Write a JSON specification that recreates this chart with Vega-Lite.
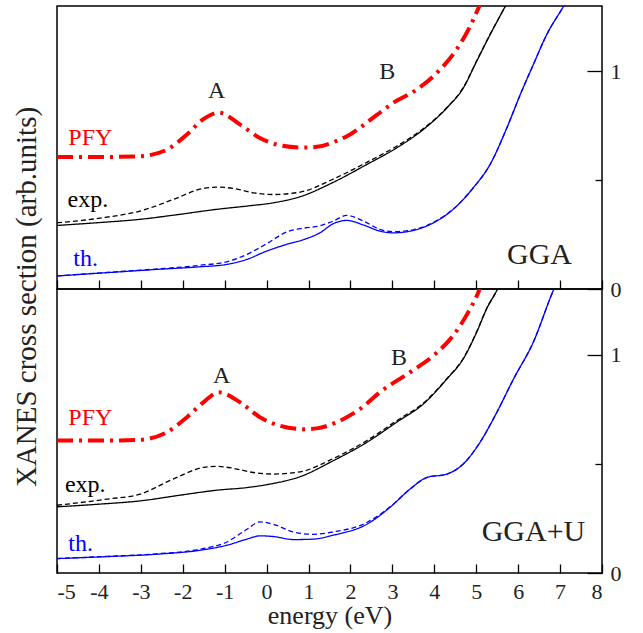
{
  "$schema": "https://vega.github.io/schema/vega-lite/v6.json",
  "background": "white",
  "padding": {"left": 12, "top": 5, "right": 5, "bottom": 2},
  "spacing": 0,
  "bounds": "flush",
  "title": {
    "text": "XANES cross section (arb.units)",
    "orient": "left",
    "anchor": "middle",
    "dx": 20,
    "font": "Liberation Serif",
    "fontSize": 29,
    "fontWeight": "normal",
    "color": "#222222",
    "offset": 14
  },
  "datasets": {
    "lines": [
      {"p":"t","s":"PFY","x":-5,"y":0.606},{"p":"t","s":"PFY","x":-4,"y":0.606},{"p":"t","s":"PFY","x":-3.02,"y":0.61},{"p":"t","s":"PFY","x":-2.38,"y":0.64},{"p":"t","s":"PFY","x":-1.9,"y":0.71},{"p":"t","s":"PFY","x":-1.51,"y":0.78},{"p":"t","s":"PFY","x":-1.14,"y":0.81},{"p":"t","s":"PFY","x":-0.63,"y":0.755},{"p":"t","s":"PFY","x":-0.16,"y":0.694},{"p":"t","s":"PFY","x":0.32,"y":0.66},{"p":"t","s":"PFY","x":0.85,"y":0.65},{"p":"t","s":"PFY","x":1.2,"y":0.653},{"p":"t","s":"PFY","x":1.6,"y":0.675},{"p":"t","s":"PFY","x":1.99,"y":0.71},{"p":"t","s":"PFY","x":2.63,"y":0.8},{"p":"t","s":"PFY","x":3.02,"y":0.855},{"p":"t","s":"PFY","x":3.58,"y":0.916},{"p":"t","s":"PFY","x":4.14,"y":1.008},{"p":"t","s":"PFY","x":4.53,"y":1.1},{"p":"t","s":"PFY","x":4.81,"y":1.19},{"p":"t","s":"PFY","x":5.07,"y":1.298},{"p":"t","s":"PFY","x":5.12,"y":1.32},
      {"p":"t","s":"exp","x":-5,"y":0.292},{"p":"t","s":"exp","x":-4,"y":0.305},{"p":"t","s":"exp","x":-3.02,"y":0.32},{"p":"t","s":"exp","x":-2.07,"y":0.343},{"p":"t","s":"exp","x":-1.19,"y":0.366},{"p":"t","s":"exp","x":-0.47,"y":0.381},{"p":"t","s":"exp","x":0.16,"y":0.396},{"p":"t","s":"exp","x":0.8,"y":0.424},{"p":"t","s":"exp","x":1.59,"y":0.49},{"p":"t","s":"exp","x":2.39,"y":0.572},{"p":"t","s":"exp","x":3.1,"y":0.648},{"p":"t","s":"exp","x":3.74,"y":0.733},{"p":"t","s":"exp","x":4.3,"y":0.832},{"p":"t","s":"exp","x":4.69,"y":0.923},{"p":"t","s":"exp","x":5.01,"y":1.046},{"p":"t","s":"exp","x":5.33,"y":1.168},{"p":"t","s":"exp","x":5.69,"y":1.298},{"p":"t","s":"exp","x":5.75,"y":1.32},
      {"p":"t","s":"expd","x":-5,"y":0.304},{"p":"t","s":"expd","x":-4.4,"y":0.315},{"p":"t","s":"expd","x":-3.81,"y":0.33},{"p":"t","s":"expd","x":-3.02,"y":0.358},{"p":"t","s":"expd","x":-2.23,"y":0.411},{"p":"t","s":"expd","x":-1.51,"y":0.462},{"p":"t","s":"expd","x":-1.19,"y":0.468},{"p":"t","s":"expd","x":-0.79,"y":0.462},{"p":"t","s":"expd","x":-0.32,"y":0.442},{"p":"t","s":"expd","x":0.16,"y":0.434},{"p":"t","s":"expd","x":0.8,"y":0.445},{"p":"t","s":"expd","x":1.59,"y":0.505},{"p":"t","s":"expd","x":2.39,"y":0.582},{"p":"t","s":"expd","x":3.1,"y":0.656},{"p":"t","s":"expd","x":3.74,"y":0.737},{"p":"t","s":"expd","x":4.3,"y":0.834},{"p":"t","s":"expd","x":4.69,"y":0.925},{"p":"t","s":"expd","x":5.01,"y":1.048},{"p":"t","s":"expd","x":5.33,"y":1.17},{"p":"t","s":"expd","x":5.69,"y":1.298},{"p":"t","s":"expd","x":5.75,"y":1.32},
      {"p":"t","s":"th","x":-5,"y":0.06},{"p":"t","s":"th","x":-3.81,"y":0.075},{"p":"t","s":"th","x":-2.62,"y":0.09},{"p":"t","s":"th","x":-1.59,"y":0.102},{"p":"t","s":"th","x":-0.95,"y":0.113},{"p":"t","s":"th","x":-0.47,"y":0.136},{"p":"t","s":"th","x":0,"y":0.174},{"p":"t","s":"th","x":0.48,"y":0.205},{"p":"t","s":"th","x":0.9,"y":0.228},{"p":"t","s":"th","x":1.27,"y":0.258},{"p":"t","s":"th","x":1.59,"y":0.3},{"p":"t","s":"th","x":1.91,"y":0.315},{"p":"t","s":"th","x":2.31,"y":0.294},{"p":"t","s":"th","x":2.7,"y":0.266},{"p":"t","s":"th","x":3.02,"y":0.258},{"p":"t","s":"th","x":3.5,"y":0.269},{"p":"t","s":"th","x":3.98,"y":0.304},{"p":"t","s":"th","x":4.45,"y":0.366},{"p":"t","s":"th","x":4.93,"y":0.465},{"p":"t","s":"th","x":5.33,"y":0.572},{"p":"t","s":"th","x":5.73,"y":0.74},{"p":"t","s":"th","x":6.05,"y":0.893},{"p":"t","s":"th","x":6.36,"y":1.03},{"p":"t","s":"th","x":6.68,"y":1.168},{"p":"t","s":"th","x":7.08,"y":1.298},{"p":"t","s":"th","x":7.16,"y":1.325},
      {"p":"t","s":"thd","x":-5,"y":0.06},{"p":"t","s":"thd","x":-3.81,"y":0.076},{"p":"t","s":"thd","x":-2.62,"y":0.092},{"p":"t","s":"thd","x":-1.59,"y":0.109},{"p":"t","s":"thd","x":-0.95,"y":0.125},{"p":"t","s":"thd","x":-0.47,"y":0.159},{"p":"t","s":"thd","x":0,"y":0.208},{"p":"t","s":"thd","x":0.48,"y":0.262},{"p":"t","s":"thd","x":0.9,"y":0.28},{"p":"t","s":"thd","x":1.27,"y":0.29},{"p":"t","s":"thd","x":1.59,"y":0.312},{"p":"t","s":"thd","x":1.91,"y":0.338},{"p":"t","s":"thd","x":2.31,"y":0.312},{"p":"t","s":"thd","x":2.7,"y":0.274},{"p":"t","s":"thd","x":3.02,"y":0.263},{"p":"t","s":"thd","x":3.5,"y":0.272},{"p":"t","s":"thd","x":3.98,"y":0.306},{"p":"t","s":"thd","x":4.45,"y":0.367},{"p":"t","s":"thd","x":4.93,"y":0.465},{"p":"t","s":"thd","x":5.33,"y":0.572},{"p":"t","s":"thd","x":5.73,"y":0.74},{"p":"t","s":"thd","x":6.05,"y":0.893},{"p":"t","s":"thd","x":6.36,"y":1.03},{"p":"t","s":"thd","x":6.68,"y":1.168},{"p":"t","s":"thd","x":7.08,"y":1.298},{"p":"t","s":"thd","x":7.16,"y":1.325},
      {"p":"b","s":"PFY","x":-5,"y":0.606},{"p":"b","s":"PFY","x":-4,"y":0.606},{"p":"b","s":"PFY","x":-3.02,"y":0.61},{"p":"b","s":"PFY","x":-2.38,"y":0.644},{"p":"b","s":"PFY","x":-1.9,"y":0.713},{"p":"b","s":"PFY","x":-1.51,"y":0.781},{"p":"b","s":"PFY","x":-1.14,"y":0.827},{"p":"b","s":"PFY","x":-0.63,"y":0.781},{"p":"b","s":"PFY","x":-0.16,"y":0.713},{"p":"b","s":"PFY","x":0.32,"y":0.674},{"p":"b","s":"PFY","x":0.9,"y":0.658},{"p":"b","s":"PFY","x":1.195,"y":0.662},{"p":"b","s":"PFY","x":1.67,"y":0.69},{"p":"b","s":"PFY","x":2.23,"y":0.751},{"p":"b","s":"PFY","x":2.7,"y":0.827},{"p":"b","s":"PFY","x":3.42,"y":0.919},{"p":"b","s":"PFY","x":3.98,"y":0.995},{"p":"b","s":"PFY","x":4.45,"y":1.087},{"p":"b","s":"PFY","x":4.81,"y":1.194},{"p":"b","s":"PFY","x":5.07,"y":1.294},{"p":"b","s":"PFY","x":5.12,"y":1.32},
      {"p":"b","s":"exp","x":-5,"y":0.303},{"p":"b","s":"exp","x":-4,"y":0.315},{"p":"b","s":"exp","x":-3.02,"y":0.33},{"p":"b","s":"exp","x":-2.07,"y":0.356},{"p":"b","s":"exp","x":-1.19,"y":0.379},{"p":"b","s":"exp","x":-0.47,"y":0.391},{"p":"b","s":"exp","x":0.08,"y":0.407},{"p":"b","s":"exp","x":0.8,"y":0.441},{"p":"b","s":"exp","x":1.59,"y":0.514},{"p":"b","s":"exp","x":2.39,"y":0.598},{"p":"b","s":"exp","x":3.1,"y":0.69},{"p":"b","s":"exp","x":3.74,"y":0.774},{"p":"b","s":"exp","x":4.3,"y":0.888},{"p":"b","s":"exp","x":4.69,"y":0.98},{"p":"b","s":"exp","x":5.01,"y":1.102},{"p":"b","s":"exp","x":5.25,"y":1.21},{"p":"b","s":"exp","x":5.5,"y":1.298},{"p":"b","s":"exp","x":5.55,"y":1.32},
      {"p":"b","s":"expd","x":-5,"y":0.31},{"p":"b","s":"expd","x":-3.81,"y":0.338},{"p":"b","s":"expd","x":-3.02,"y":0.361},{"p":"b","s":"expd","x":-2.23,"y":0.43},{"p":"b","s":"expd","x":-1.51,"y":0.483},{"p":"b","s":"expd","x":-1.19,"y":0.488},{"p":"b","s":"expd","x":-0.79,"y":0.479},{"p":"b","s":"expd","x":-0.32,"y":0.46},{"p":"b","s":"expd","x":0.16,"y":0.453},{"p":"b","s":"expd","x":0.8,"y":0.463},{"p":"b","s":"expd","x":1.59,"y":0.524},{"p":"b","s":"expd","x":2.39,"y":0.606},{"p":"b","s":"expd","x":3.1,"y":0.697},{"p":"b","s":"expd","x":3.74,"y":0.778},{"p":"b","s":"expd","x":4.3,"y":0.89},{"p":"b","s":"expd","x":4.69,"y":0.982},{"p":"b","s":"expd","x":5.01,"y":1.104},{"p":"b","s":"expd","x":5.25,"y":1.212},{"p":"b","s":"expd","x":5.5,"y":1.298},{"p":"b","s":"expd","x":5.55,"y":1.32},
      {"p":"b","s":"th","x":-5,"y":0.066},{"p":"b","s":"th","x":-3.81,"y":0.075},{"p":"b","s":"th","x":-2.62,"y":0.086},{"p":"b","s":"th","x":-1.59,"y":0.104},{"p":"b","s":"th","x":-0.95,"y":0.127},{"p":"b","s":"th","x":-0.47,"y":0.155},{"p":"b","s":"th","x":-0.16,"y":0.17},{"p":"b","s":"th","x":0.16,"y":0.167},{"p":"b","s":"th","x":0.64,"y":0.153},{"p":"b","s":"th","x":1.11,"y":0.155},{"p":"b","s":"th","x":1.59,"y":0.173},{"p":"b","s":"th","x":2.39,"y":0.223},{"p":"b","s":"th","x":2.94,"y":0.3},{"p":"b","s":"th","x":3.42,"y":0.384},{"p":"b","s":"th","x":3.82,"y":0.437},{"p":"b","s":"th","x":4.3,"y":0.453},{"p":"b","s":"th","x":4.69,"y":0.499},{"p":"b","s":"th","x":5.09,"y":0.598},{"p":"b","s":"th","x":5.49,"y":0.735},{"p":"b","s":"th","x":5.89,"y":0.888},{"p":"b","s":"th","x":6.36,"y":1.056},{"p":"b","s":"th","x":6.84,"y":1.294},{"p":"b","s":"th","x":6.9,"y":1.32},
      {"p":"b","s":"thd","x":-5,"y":0.066},{"p":"b","s":"thd","x":-3.81,"y":0.076},{"p":"b","s":"thd","x":-2.62,"y":0.088},{"p":"b","s":"thd","x":-1.59,"y":0.109},{"p":"b","s":"thd","x":-0.95,"y":0.142},{"p":"b","s":"thd","x":-0.47,"y":0.2},{"p":"b","s":"thd","x":-0.16,"y":0.234},{"p":"b","s":"thd","x":0.16,"y":0.223},{"p":"b","s":"thd","x":0.64,"y":0.188},{"p":"b","s":"thd","x":1.11,"y":0.177},{"p":"b","s":"thd","x":1.59,"y":0.188},{"p":"b","s":"thd","x":2.39,"y":0.231},{"p":"b","s":"thd","x":2.94,"y":0.302},{"p":"b","s":"thd","x":3.42,"y":0.384},{"p":"b","s":"thd","x":3.82,"y":0.437},{"p":"b","s":"thd","x":4.3,"y":0.453},{"p":"b","s":"thd","x":4.69,"y":0.499},{"p":"b","s":"thd","x":5.09,"y":0.598},{"p":"b","s":"thd","x":5.49,"y":0.735},{"p":"b","s":"thd","x":5.89,"y":0.888},{"p":"b","s":"thd","x":6.36,"y":1.056},{"p":"b","s":"thd","x":6.84,"y":1.294},{"p":"b","s":"thd","x":6.9,"y":1.32}
    ],
    "labels": [
      {"p":"t","k":"peak","s":"exp","t":"A","x":-1.19,"y":0.908},
      {"p":"t","k":"peak","s":"exp","t":"B","x":2.88,"y":0.997},
      {"p":"t","k":"series","s":"PFY","t":"PFY","x":-4.73,"y":0.694},
      {"p":"t","k":"series","s":"exp","t":"exp.","x":-4.75,"y":0.408},
      {"p":"t","k":"series","s":"th","t":"th.","x":-4.61,"y":0.136},
      {"p":"t","k":"model","s":"exp","t":"GGA","x":5.735,"y":0.115},
      {"p":"b","k":"peak","s":"exp","t":"A","x":-1.07,"y":0.904},
      {"p":"b","k":"peak","s":"exp","t":"B","x":3.16,"y":0.983},
      {"p":"b","k":"series","s":"PFY","t":"PFY","x":-4.73,"y":0.71},
      {"p":"b","k":"series","s":"exp","t":"exp.","x":-4.81,"y":0.404},
      {"p":"b","k":"series","s":"th","t":"th.","x":-4.73,"y":0.132},
      {"p":"b","k":"model","s":"exp","t":"GGA+U","x":5.13,"y":0.145}
    ]
  },
  "vconcat": [
    {
      "width": 545,
      "height": 283,
      "encoding": {
        "x": {"field": "x", "type": "quantitative",
          "scale": {"domain": [-5, 8], "nice": false, "zero": false},
          "axis": {"orient": "bottom", "values": [-5,-4,-3,-2,-1,0,1,2,3,4,5,6,7,8], "labels": false, "title": null, "domain": false, "grid": false, "tickSize": -9, "tickColor": "#000000", "tickWidth": 1.3}},
        "y": {"field": "y", "type": "quantitative",
          "scale": {"domain": [0, 1.3], "nice": false, "zero": false},
          "axis": {"orient": "right", "values": [0, 0.5, 1], "labelExpr": "datum.value == 0.5 ? '' : '' + datum.value", "title": null, "domain": false, "grid": false,
            "tickSize": {"condition": {"test": "datum.value == 0.5", "value": -7}, "value": -15}, "tickColor": "#000000", "tickWidth": 1.3, "labelPadding": 23, "labelFont": "Liberation Serif", "labelFontSize": 22, "labelColor": "#222222"}}
      },
      "layer": [
        {"data": {"name": "lines"}, "transform": [{"filter": "datum.p == 't' && datum.s != 'PFY'"}],
          "mark": {"type": "line", "interpolate": "monotone", "clip": true, "strokeWidth": 1.3},
          "encoding": {
            "color": {"field": "s", "type": "nominal", "legend": null, "scale": {"domain": ["PFY","exp","expd","th","thd"], "range": ["#ff0000","#000000","#000000","#0000ff","#0000ff"]}},
            "strokeDash": {"field": "s", "type": "nominal", "legend": null, "scale": {"domain": ["PFY","exp","expd","th","thd"], "range": [[16,6,3,6],[1,0],[5,3],[1,0],[5,3]]}},
            "detail": {"field": "s"}
          }},
        {"data": {"name": "lines"}, "transform": [{"filter": "datum.p == 't' && datum.s == 'PFY'"}],
          "mark": {"type": "line", "interpolate": "monotone", "clip": true, "strokeWidth": 4, "color": "#ff0000", "strokeDash": [16,6,3,6]}},
        {"data": {"name": "labels"}, "transform": [{"filter": "datum.p == 't' && datum.k == 'series'"}],
          "mark": {"type": "text", "align": "left", "baseline": "middle", "fontSize": 24, "font": "Liberation Serif"},
          "encoding": {"text": {"field": "t"}, "color": {"field": "s", "type": "nominal", "legend": null}}},
        {"data": {"name": "labels"}, "transform": [{"filter": "datum.p == 't' && datum.k == 'peak'"}],
          "mark": {"type": "text", "align": "center", "baseline": "middle", "fontSize": 24, "font": "Liberation Serif", "color": "#222222"},
          "encoding": {"text": {"field": "t"}}},
        {"data": {"name": "labels"}, "transform": [{"filter": "datum.p == 't' && datum.k == 'model'"}],
          "mark": {"type": "text", "align": "left", "baseline": "alphabetic", "fontSize": 30, "font": "Liberation Serif", "color": "#222222"},
          "encoding": {"text": {"field": "t"}}}
      ]
    },
    {
      "width": 545,
      "height": 284,
      "encoding": {
        "x": {"field": "x", "type": "quantitative",
          "scale": {"domain": [-5, 8], "nice": false, "zero": false},
          "axis": {"orient": "bottom", "values": [-5,-4,-3,-2,-1,0,1,2,3,4,5,6,7,8], "labelExpr": "'' + datum.value", "title": "energy (eV)", "titleFont": "Liberation Serif", "titleFontSize": 26, "titleFontWeight": "normal", "titleColor": "#222222", "titlePadding": 0, "domain": false, "grid": false, "tickSize": -9, "tickColor": "#000000", "tickWidth": 1.3, "labelPadding": 17, "labelFont": "Liberation Serif", "labelFontSize": 22, "labelColor": "#222222"}},
        "y": {"field": "y", "type": "quantitative",
          "scale": {"domain": [0, 1.3], "nice": false, "zero": false},
          "axis": {"orient": "right", "values": [0, 0.5, 1], "labelExpr": "datum.value == 0.5 ? '' : '' + datum.value", "title": null, "domain": false, "grid": false,
            "tickSize": {"condition": {"test": "datum.value == 0.5", "value": -7}, "value": -15}, "tickColor": "#000000", "tickWidth": 1.3, "labelPadding": 23, "labelFont": "Liberation Serif", "labelFontSize": 22, "labelColor": "#222222"}}
      },
      "layer": [
        {"data": {"name": "lines"}, "transform": [{"filter": "datum.p == 'b' && datum.s != 'PFY'"}],
          "mark": {"type": "line", "interpolate": "monotone", "clip": true, "strokeWidth": 1.3},
          "encoding": {
            "color": {"field": "s", "type": "nominal", "legend": null, "scale": {"domain": ["PFY","exp","expd","th","thd"], "range": ["#ff0000","#000000","#000000","#0000ff","#0000ff"]}},
            "strokeDash": {"field": "s", "type": "nominal", "legend": null, "scale": {"domain": ["PFY","exp","expd","th","thd"], "range": [[16,6,3,6],[1,0],[5,3],[1,0],[5,3]]}},
            "detail": {"field": "s"}
          }},
        {"data": {"name": "lines"}, "transform": [{"filter": "datum.p == 'b' && datum.s == 'PFY'"}],
          "mark": {"type": "line", "interpolate": "monotone", "clip": true, "strokeWidth": 4, "color": "#ff0000", "strokeDash": [16,6,3,6]}},
        {"data": {"name": "labels"}, "transform": [{"filter": "datum.p == 'b' && datum.k == 'series'"}],
          "mark": {"type": "text", "align": "left", "baseline": "middle", "fontSize": 24, "font": "Liberation Serif"},
          "encoding": {"text": {"field": "t"}, "color": {"field": "s", "type": "nominal", "legend": null}}},
        {"data": {"name": "labels"}, "transform": [{"filter": "datum.p == 'b' && datum.k == 'peak'"}],
          "mark": {"type": "text", "align": "center", "baseline": "middle", "fontSize": 24, "font": "Liberation Serif", "color": "#222222"},
          "encoding": {"text": {"field": "t"}}},
        {"data": {"name": "labels"}, "transform": [{"filter": "datum.p == 'b' && datum.k == 'model'"}],
          "mark": {"type": "text", "align": "left", "baseline": "alphabetic", "fontSize": 30, "font": "Liberation Serif", "color": "#222222"},
          "encoding": {"text": {"field": "t"}}}
      ]
    }
  ],
  "resolve": {"scale": {"color": "shared", "strokeDash": "shared"}},
  "config": {
    "font": "Liberation Serif",
    "view": {"stroke": "#000000", "strokeWidth": 1.5},
    "axis": {"labelFont": "Liberation Serif", "labelFontSize": 22, "labelColor": "#222222", "titleFont": "Liberation Serif"},
    "text": {"font": "Liberation Serif"}
  }
}
